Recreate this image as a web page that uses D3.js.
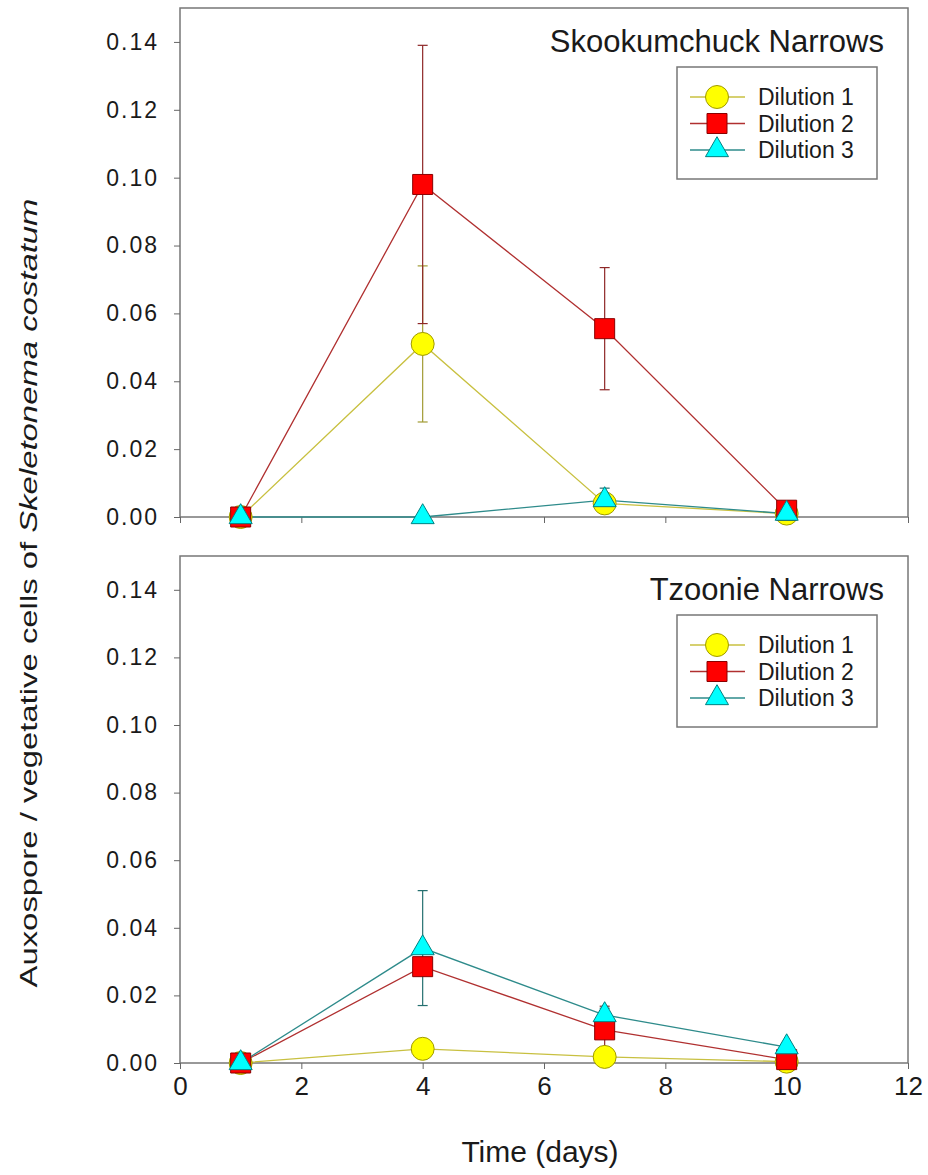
<!DOCTYPE html>
<html>
<head>
<meta charset="utf-8">
<script src="https://cdn.jsdelivr.net/npm/d3@7"></script>
<style>
body { margin: 0; background: #fff; }
text { font-family: "Liberation Sans", Arial, sans-serif; fill: #1a1a1a; }
</style>
</head>
<body>
<div id="chart"></div>
<script>
// data
var days = [1, 4, 7, 10];
var series_names = ["Dilution 1", "Dilution 2", "Dilution 3"];
var site_names = ["Skookumchuck Narrows", "Tzoonie Narrows"];

var skook_d1 = [0, 0.051, 0.004, 0.001];
var skook_d1_err = [0, 0.023, 0, 0];
var skook_d2 = [0, 0.098, 0.0555, 0.002];
var skook_d2_err = [0, 0.041, 0.018, 0];
var skook_d3 = [0, 0, 0.005, 0.001];
var skook_d3_err = [0, 0, 0.0035, 0];

var tzoon_d1 = [0, 0.0042, 0.0018, 0.0004];
var tzoon_d1_err = [0, 0, 0, 0];
var tzoon_d2 = [0, 0.0285, 0.0098, 0.001];
var tzoon_d2_err = [0, 0, 0.007, 0];
var tzoon_d3 = [0, 0.034, 0.0142, 0.0047];
var tzoon_d3_err = [0, 0.017, 0.002, 0];

var x_ticks = [0, 2, 4, 6, 8, 10, 12];
var y_ticks = [0, 0.02, 0.04, 0.06, 0.08, 0.10, 0.12, 0.14];

// layout
var width = 928, height = 1175;
var panels = [
    {top: 8, bottom: 517, labels: false,
     values: [skook_d1, skook_d2, skook_d3], errs: [skook_d1_err, skook_d2_err, skook_d3_err]},
    {top: 556, bottom: 1063, labels: true,
     values: [tzoon_d1, tzoon_d2, tzoon_d3], errs: [tzoon_d1_err, tzoon_d2_err, tzoon_d3_err]}
];
var styles = [
    {fill: "#ffff00", stroke: "#a09a00", line: "#c8c040", shape: d3.symbolCircle, size: 415},
    {fill: "#ff0000", stroke: "#8a0000", line: "#b03030", shape: d3.symbolSquare, size: 400},
    {fill: "#00ffff", stroke: "#008080", line: "#2e8b8b", shape: d3.symbolTriangle, size: 230}
];

var svg = d3.select("#chart")
            .append("svg")
            .attr("width", width)
            .attr("height", height);

var x = d3.scaleLinear().domain([0, 12]).range([180, 908]);

panels.forEach(function(p, pi) {
    var y = d3.scaleLinear().domain([0, 0.15]).range([p.bottom, p.top]);
    var g = svg.append("g");

    // frame
    g.append("rect")
        .attr("x", x(0)).attr("y", y(0.15))
        .attr("width", x(12) - x(0)).attr("height", y(0) - y(0.15))
        .attr("fill", "none").attr("stroke", "#777").attr("stroke-width", 1.5);

    // axes
    var ya = g.append("g")
        .attr("transform", "translate(" + x(0) + ",0)")
        .call(d3.axisLeft(y).tickValues(y_ticks).tickFormat(d3.format(".2f"))
              .tickSize(6).tickPadding(15));
    ya.select(".domain").remove();
    ya.selectAll("line").attr("stroke", "#666");
    ya.selectAll("text")
        .attr("font-size", 23).attr("letter-spacing", "2px")
        .attr("font-family", "Liberation Sans, Arial, sans-serif").attr("fill", "#1a1a1a");

    var xa = g.append("g")
        .attr("transform", "translate(0," + y(0) + ")")
        .call(d3.axisBottom(x).tickValues(x_ticks).tickSize(6).tickPadding(8)
              .tickFormat(p.labels ? d3.format("d") : function() { return ""; }));
    xa.select(".domain").remove();
    xa.selectAll("line").attr("stroke", "#666");
    xa.selectAll("text")
        .attr("font-size", 26)
        .attr("font-family", "Liberation Sans, Arial, sans-serif").attr("fill", "#1a1a1a");

    // lines and error bars
    p.values.forEach(function(vals, si) {
        var st = styles[si];
        var pts = days.map(function(d, i) { return {x: d, y: vals[i], e: p.errs[si][i]}; });
        g.append("path")
            .datum(pts)
            .attr("fill", "none")
            .attr("stroke", st.line)
            .attr("stroke-width", 1.3)
            .attr("d", d3.line().x(function(d) { return x(d.x); }).y(function(d) { return y(d.y); }));

        var eb = g.selectAll(null)
            .data(pts.filter(function(d) { return d.e > 0; }))
            .enter().append("g")
            .attr("stroke", d3.color(st.line).darker(0.6))
            .attr("stroke-width", 1.2);
        eb.append("line")
            .attr("x1", function(d) { return x(d.x); }).attr("x2", function(d) { return x(d.x); })
            .attr("y1", function(d) { return y(d.y - d.e); }).attr("y2", function(d) { return y(d.y + d.e); });
        eb.append("line")
            .attr("x1", function(d) { return x(d.x) - 5; }).attr("x2", function(d) { return x(d.x) + 5; })
            .attr("y1", function(d) { return y(d.y + d.e); }).attr("y2", function(d) { return y(d.y + d.e); });
        eb.append("line")
            .attr("x1", function(d) { return x(d.x) - 5; }).attr("x2", function(d) { return x(d.x) + 5; })
            .attr("y1", function(d) { return y(d.y - d.e); }).attr("y2", function(d) { return y(d.y - d.e); });
    });

    // markers
    p.values.forEach(function(vals, si) {
        var st = styles[si];
        g.selectAll(null)
            .data(vals)
            .enter().append("path")
            .attr("d", d3.symbol().type(st.shape).size(st.size))
            .attr("transform", function(d, i) { return "translate(" + x(days[i]) + "," + y(d) + ")"; })
            .attr("fill", st.fill)
            .attr("stroke", st.stroke)
            .attr("stroke-width", 1);
    });

    // site title
    g.append("text")
        .attr("x", 884).attr("y", p.top + 44)
        .attr("text-anchor", "end")
        .attr("font-size", 31)
        .text(site_names[pi]);

    // legend
    var lg = g.append("g").attr("transform", "translate(677," + (p.top + 59) + ")");
    lg.append("rect")
        .attr("width", 200).attr("height", 112)
        .attr("fill", "#fff").attr("stroke", "#777").attr("stroke-width", 1.5);
    series_names.forEach(function(name, si) {
        var st = styles[si];
        var ry = 30 + si * 26.5;
        lg.append("line")
            .attr("x1", 13).attr("x2", 68).attr("y1", ry).attr("y2", ry)
            .attr("stroke", st.line).attr("stroke-width", 1.3);
        lg.append("path")
            .attr("d", d3.symbol().type(st.shape).size(st.size))
            .attr("transform", "translate(40," + ry + ")")
            .attr("fill", st.fill).attr("stroke", st.stroke).attr("stroke-width", 1);
        lg.append("text")
            .attr("x", 81).attr("y", ry + 8)
            .attr("font-size", 23)
            .text(name);
    });
});

// axis titles
svg.append("text")
    .attr("x", 540).attr("y", 1162)
    .attr("text-anchor", "middle")
    .attr("font-size", 30)
    .text("Time (days)");

var yl = svg.append("text")
    .attr("transform", "translate(37,593) rotate(-90)")
    .attr("text-anchor", "middle")
    .attr("font-size", 24)
    .attr("textLength", 789)
    .attr("lengthAdjust", "spacingAndGlyphs");
yl.append("tspan").text("Auxospore / vegetative cells of ");
yl.append("tspan").attr("font-style", "italic").text("Skeletonema costatum");
</script>
</body>
</html>
